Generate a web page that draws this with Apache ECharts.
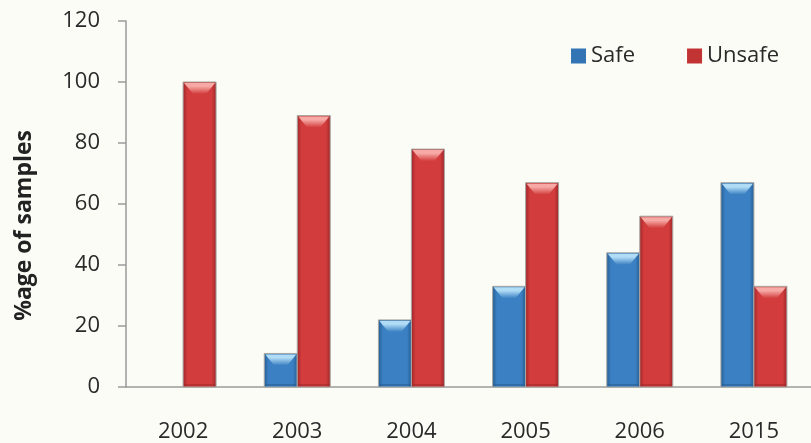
<!DOCTYPE html>
<html>
<head>
<meta charset="utf-8">
<script src="https://cdn.jsdelivr.net/npm/echarts@6/dist/echarts.min.js"></script>
<style>
  html, body { margin: 0; padding: 0; background: #fcfcf6; }
  #chart { width: 811px; height: 443px; }
</style>
</head>
<body>
<div id="chart"></div>
<script>
// Survey years and share of samples judged safe / unsafe (%)
const years = ['2002', '2003', '2004', '2005', '2006', '2015'];
const safe = [0, 11, 22, 33, 44, 67];
const unsafe = [100, 89, 78, 67, 56, 33];
const yTicks = { min: 0, max: 120, interval: 20 };

const FONT = '"Open Sans", "Liberation Sans", sans-serif';
const BAR_W = 33;

const palettes = {
  blue: { edge: '#245a90', mid: '#3a80c2', light: '#b0dcf6', legend: '#3274b4' },
  red:  { edge: '#9b2528', mid: '#d23c3c', light: '#f6a9a5', legend: '#c23434' }
};

function sideGradient(p) {
  return new echarts.graphic.LinearGradient(0, 0, 1, 0, [
    { offset: 0, color: p.edge },
    { offset: 0.14, color: p.mid },
    { offset: 0.5, color: p.mid },
    { offset: 0.86, color: p.mid },
    { offset: 1, color: p.edge }
  ]);
}

// Bevelled column: shaded body plus a light top facet
function columnRenderer(side, p) {
  return function (params, api) {
    const idx = api.value(0);
    const val = api.value(1);
    const base = api.coord([idx, 0]);
    const top = api.coord([idx, val]);
    const h = base[1] - top[1];
    if (h <= 0.5) return null;
    const x0 = side === 'left' ? base[0] - BAR_W : base[0];
    const y0 = top[1];
    const bev = Math.min(12, h / 2);
    const ins = Math.min(9, bev * 0.8);
    return {
      type: 'group',
      children: [
        {
          type: 'rect',
          shape: { x: x0, y: y0, width: BAR_W, height: h },
          style: { fill: sideGradient(p), stroke: '#a8a8a4', lineWidth: 1 }
        },
        {
          type: 'polygon',
          shape: { points: [[x0 + 1, y0 + 1], [x0 + BAR_W - 1, y0 + 1], [x0 + BAR_W - 1 - ins, y0 + bev], [x0 + 1 + ins, y0 + bev]] },
          style: {
            fill: new echarts.graphic.LinearGradient(0, 0, 0, 1, [
              { offset: 0, color: p.light },
              { offset: 0.3, color: p.light },
              { offset: 1, color: p.mid }
            ])
          }
        },
        {
          type: 'rect',
          shape: { x: x0 + 1, y: base[1] - 3, width: BAR_W - 2, height: 2 },
          style: { fill: p.edge, opacity: 0.5 }
        }
      ]
    };
  };
}

const chart = echarts.init(document.getElementById('chart'), null, { renderer: 'canvas' });

chart.setOption({
  backgroundColor: '#fcfcf6',
  animation: false,
  grid: { left: 126, right: -12, top: 21, bottom: 55 },
  legend: {
    left: 566,
    top: 40,
    icon: 'rect',
    itemWidth: 15,
    itemHeight: 15,
    itemGap: 52,
    textStyle: { fontFamily: FONT, fontSize: 22, color: '#2a2a2a' },
    data: ['Safe', 'Unsafe']
  },
  xAxis: {
    type: 'category',
    data: years,
    axisLine: { lineStyle: { color: '#9a9a9a', width: 1.5 } },
    axisTick: { show: false },
    axisLabel: { fontFamily: FONT, fontSize: 22, color: '#2a2a2a', margin: 34 },
    splitLine: { show: false }
  },
  yAxis: {
    type: 'value',
    min: yTicks.min,
    max: yTicks.max,
    interval: yTicks.interval,
    axisLine: { show: true, lineStyle: { color: '#9a9a9a', width: 1.5 } },
    axisTick: { show: true, inside: false, length: 8, lineStyle: { color: '#9a9a9a', width: 1.5 } },
    axisLabel: { fontFamily: FONT, fontSize: 22, color: '#2a2a2a', margin: 26 },
    splitLine: { show: false }
  },
  graphic: [
    {
      type: 'text',
      left: 13,
      top: 130,
      rotation: Math.PI / 2,
      style: {
        text: '%age of samples',
        fontFamily: FONT,
        fontWeight: 'bold',
        fontSize: 23,
        fill: '#222'
      }
    }
  ],
  series: [
    {
      name: 'Safe',
      type: 'custom',
      renderItem: columnRenderer('left', palettes.blue),
      itemStyle: { color: palettes.blue.legend },
      encode: { x: 0, y: 1 },
      data: safe.map((v, i) => [i, v])
    },
    {
      name: 'Unsafe',
      type: 'custom',
      renderItem: columnRenderer('right', palettes.red),
      itemStyle: { color: palettes.red.legend },
      encode: { x: 0, y: 1 },
      data: unsafe.map((v, i) => [i, v])
    }
  ]
});
</script>
</body>
</html>
